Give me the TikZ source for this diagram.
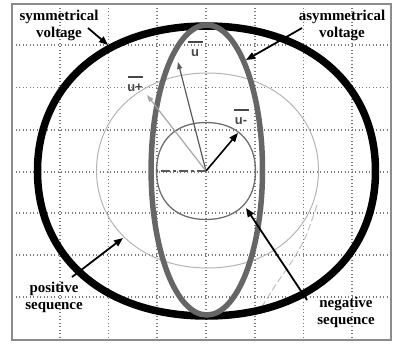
\documentclass[tikz,border=0pt]{standalone}
\usepackage{fontspec}
\setmainfont{Liberation Serif}
\setsansfont{Liberation Sans}
\usetikzlibrary{arrows.meta}
\definecolor{gridc}{HTML}{7A7A7A}
\definecolor{framec}{HTML}{8C8C8C}
\definecolor{asymc}{HTML}{666666}
\definecolor{posc}{HTML}{B4B4B4}
\definecolor{negc}{HTML}{6E6E6E}
\definecolor{uc}{HTML}{5A5A5A}
\definecolor{upc}{HTML}{A6A6A6}
% rounded "super-ellipse": centre (#1,#2), radii #3,#4, handle factor #5
\newcommand\sqell[5]{({#1+#3},#2)
 .. controls ({#1+#3},{#2+#5*#4}) and ({#1+#5*#3},{#2+#4}) .. (#1,{#2+#4})
 .. controls ({#1-#5*#3},{#2+#4}) and ({#1-#3},{#2+#5*#4}) .. ({#1-#3},#2)
 .. controls ({#1-#3},{#2-#5*#4}) and ({#1-#5*#3},{#2-#4}) .. (#1,{#2-#4})
 .. controls ({#1+#5*#3},{#2-#4}) and ({#1+#3},{#2-#5*#4}) .. cycle}
\begin{document}
\begin{tikzpicture}[x=1bp,y=-1bp,
  ann/.style={font=\fontsize{15}{17}\selectfont\bfseries, inner sep=0pt, align=center},
  annarrow/.style={draw=black, line width=1.8bp, -{Triangle[length=9bp,width=7bp]}},
  gridline/.style={draw=gridc, line width=1.1bp, dash pattern=on 1.1bp off 2.4bp},
  vlab/.style={font=\fontsize{13}{14}\selectfont\sffamily\bfseries, text=black!72, inner sep=0pt, align=center, anchor=south},
  vec/.style={line width=1.2bp}
]
\useasboundingbox (0,0) rectangle (394,345);
% grid
\foreach \x in {60,108.5,157,206,255,303.5,352} \draw[gridline] (\x,4) -- (\x,340);
\foreach \y in {45,87.5,130,172,213,255,297} \draw[gridline] (12,\y) -- (391,\y);
\draw[draw=framec, line width=1.5bp] (12,4) rectangle (391,340);
% positive sequence
\draw[draw=posc, line width=1bp] \sqell{207.5}{170.5}{111}{97.5}{0.58};
\draw[draw=posc!85, line width=1bp, dash pattern=on 7bp off 3bp] plot[smooth] coordinates {(317,205) (306,236) (294,258) (277,283) (261,308)};
% negative sequence
\draw[draw=negc, line width=1.3bp] \sqell{206}{171}{49.5}{48.5}{0.62};
% symmetrical voltage
\draw[draw=black, line width=7.5bp] \sqell{206.5}{171}{169}{145}{0.6};
% asymmetrical voltage
\draw[draw=asymc, line width=5.5bp] (206.8,170) ellipse [x radius=55.7, y radius=145];
% vectors
\coordinate (O) at (206,171);
\coordinate (ut) at (178,62);
\coordinate (upt) at (147,95);
\coordinate (umt) at (238,133);
\coordinate (dl) at (157,171);
\draw[draw=uc, line width=1.2bp, dash pattern=on 9bp off 3bp on 3bp off 3bp] (O) -- (dl);
\draw[vec, draw=uc, -{Triangle[length=7bp,width=5bp]}] (O) -- (ut);
\draw[vec, draw=upc, -{Triangle[length=7bp,width=5bp]}] (O) -- (upt);
\draw[line width=1.6bp, draw=black, -{Triangle[length=9bp,width=7bp]}] (O) -- (umt);
\node[vlab] (ulab) at (195,57) {\rule{15bp}{1.3bp}\\u};
\node[vlab] (uplab) at (135,92) {\rule{15bp}{1.3bp}\\u+};
\node[vlab] (umlab) at (241,125) {\rule{15bp}{1.3bp}\\u-};
% annotations
\node[ann] (sym) at (59,25) {symmetrical\\voltage};
\node[ann] (asym) at (342,25) {asymmetrical\\voltage};
\node[ann] (pos) at (54,297) {positive\\sequence};
\node[ann] (neg) at (346,312) {negative\\sequence};
\coordinate (symA) at (88,28);
\coordinate (symB) at (108,45);
\coordinate (asymA) at (302,28);
\coordinate (asymB) at (246,60);
\coordinate (posA) at (72,277);
\coordinate (posB) at (123,238);
\coordinate (negA) at (307,300);
\coordinate (negB) at (246,208);
\draw[annarrow] (symA) -- (symB);
\draw[annarrow] (asymA) -- (asymB);
\draw[annarrow] (posA) -- (posB);
\draw[annarrow] (negA) -- (negB);
\end{tikzpicture}
\end{document}
